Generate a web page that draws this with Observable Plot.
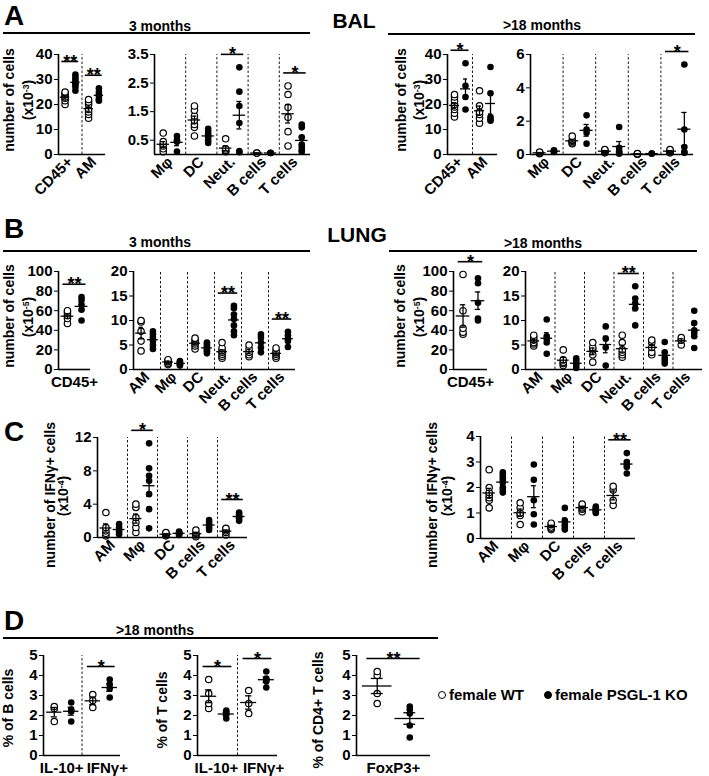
<!DOCTYPE html>
<html><head><meta charset="utf-8">
<script src="https://cdn.jsdelivr.net/npm/d3@7"></script>
<script src="https://cdn.jsdelivr.net/npm/@observablehq/plot@0.6"></script>
<style>
body{margin:0;background:#fff;}
#fig{position:relative;width:709px;height:776px;overflow:hidden;font-family:"Liberation Sans",Arial,sans-serif;font-weight:bold;color:#000;}
.abs{position:absolute;white-space:nowrap;line-height:1.15;}
.c{transform:translate(-50%,-50%);}
.rot{transform:translate(-50%,-50%) rotate(-90deg);}
.hl{position:absolute;height:0;border-top:2px solid #000;}
sup{font-size:0.62em;vertical-align:0.45em;line-height:0;}
.lg{display:inline-block;width:6px;height:6px;border-radius:50%;border:1.3px solid #000;margin-right:3px;vertical-align:1px;}
</style></head><body><div id="fig"></div><script>
// ---------------- DATA ----------------
const groups = ["female WT", "female PSGL-1 KO"];
// A – BAL, 3 months
const a3Cats1 = ["CD45+", "AM"];
const a3Wt1 = [[20, 21.5, 22.5, 23, 24, 24.5, 25], [14.5, 16, 17, 18, 20, 21, 22]];
const a3Ko1 = [[25.5, 27, 28, 28.5, 29, 30, 31, 32], [21.5, 22, 23, 24, 25, 26.5]];
const a3Sig1 = [["CD45+", "**"], ["AM", "**"]];
const a3Cats2 = ["Mφ", "DC", "Neut.", "B cells", "T cells"];
const a3Wt2 = [[0.1, 0.2, 0.3, 0.35, 0.45, 0.75], [0.65, 0.95, 1.05, 1.2, 1.35, 1.55, 1.7], [0.1, 0.12, 0.15, 0.2, 0.55], [0.05, 0.05], [0.3, 0.8, 1.3, 1.65, 2.1, 2.4]];
const a3Ko2 = [[0.1, 0.45, 0.5, 0.65], [0.4, 0.5, 0.6, 0.7, 0.8, 0.9], [0.08, 0.12, 1.1, 1.7, 2.2, 3.05], [0.05, 0.05, 0.06], [0.1, 0.15, 0.25, 0.35, 0.6, 0.95, 1.05]];
const a3Sig2 = [["Neut.", "*"], ["T cells", "*"]];
// A – BAL, >18 months
const a18Cats1 = ["CD45+", "AM"];
const a18Wt1 = [[15, 16.5, 18, 19, 20, 21.5, 23, 24], [12.5, 14.5, 16, 17, 19.5, 25.5]];
const a18Ko1 = [[18, 23, 27.5, 36.5], [13.5, 14, 15, 24.5, 35]];
const a18Sig1 = [["CD45+", "*"]];
const a18Cats2 = ["Mφ", "DC", "Neut.", "B cells", "T cells"];
const a18Wt2 = [[0.05, 0.1, 0.1, 0.15], [0.65, 0.7, 0.8, 0.85, 1.1], [0.1, 0.15, 0.2, 0.25, 0.3], [0.02, 0.03, 0.05], [0.1, 0.15, 0.2, 0.25, 0.3]];
const a18Ko2 = [[0.15, 0.2, 0.2, 0.25], [0.65, 1.3, 1.5, 2.35], [0.05, 0.1, 0.2, 0.4, 1.65], [0.05, 0.06], [0.1, 0.15, 0.45, 1.5, 5.4]];
const a18Sig2 = [["T cells", "*"]];
// B – LUNG, 3 months
const b3Cats1 = ["CD45+"];
const b3Wt1 = [[47, 52, 55, 58, 60]];
const b3Ko1 = [[50, 61, 66, 71, 74]];
const b3Sig1 = [["CD45+", "**"]];
const b3Cats2 = ["AM", "Mφ", "DC", "Neut.", "B cells", "T cells"];
const b3Wt2 = [[3.8, 5.8, 7.8, 9.7, 10], [1.0, 1.3, 1.6, 1.8, 2.0], [4.2, 4.8, 5.2, 5.6, 6.0, 6.4], [2.3, 2.7, 3.1, 3.5, 3.9, 4.4, 5.5], [2.6, 3.0, 3.5, 4.2, 5.0], [2.3, 2.7, 3.1, 3.4, 3.8, 4.4]];
const b3Ko2 = [[4.2, 5, 5.8, 6.5, 7.2, 7.8], [0.8, 1.0, 1.2, 1.5, 1.7], [3.3, 3.7, 4.0, 4.4, 4.8, 5.2, 5.5], [7.0, 7.8, 9.0, 10.3, 11.2, 12.5, 13.0], [3.5, 4.5, 5.5, 6.5, 7.2], [4.6, 5.8, 6.3, 7.0, 7.7]];
const b3Sig2 = [["Neut.", "**"], ["T cells", "**"]];
// B – LUNG, >18 months
const b18Cats1 = ["CD45+"];
const b18Wt1 = [[36, 38, 42, 60, 97]];
const b18Ko1 = [[50, 52, 68, 88, 93]];
const b18Sig1 = [["CD45+", "*"]];
const b18Cats2 = ["AM", "Mφ", "DC", "Neut.", "B cells", "T cells"];
const b18Wt2 = [[4.8, 5.2, 5.5, 6.0, 6.5, 7.0], [0.8, 1.2, 1.5, 2.0, 4.0], [1.5, 3.0, 4.0, 4.5, 5.5], [2.5, 3.0, 3.5, 4.0, 5.5, 7.0], [3.0, 3.5, 4.5, 5.5, 6.0], [5.0, 6.0, 6.5]];
const b18Ko2 = [[3.2, 5.5, 6.2, 6.8, 10.2], [0.3, 0.8, 1.2, 1.8, 2.3], [0.8, 4.5, 6.3, 8.8], [9.0, 12.5, 13.5, 14.5, 17.0], [1.2, 1.8, 2.4, 3.5, 5.6], [4.4, 6.8, 7.5, 8.0, 9.5, 12.0]];
const b18Sig2 = [["Neut.", "**"]];
// C – IFNγ+ cells
const cCats = ["AM", "Mφ", "DC", "B cells", "T cells"];
const c3Wt = [[0.2, 0.5, 0.8, 1.2, 3.0], [0.6, 1.2, 1.8, 2.4, 3.6, 4.0], [0.2, 0.3, 0.4, 0.5, 0.6], [0.1, 0.3, 0.5, 0.9], [0.3, 0.6, 0.8, 1.0, 1.1]];
const c3Ko = [[0.4, 0.7, 0.9, 1.2, 1.6], [1.1, 3.4, 5.2, 6.8, 7.4, 8.3, 11.3], [0.3, 0.4, 0.5, 0.6, 0.7], [0.9, 1.2, 1.5, 1.8, 2.1], [2.0, 2.3, 2.5, 2.8, 3.0]];
const c3Sig = [["Mφ", "*"], ["T cells", "**"]];
const c18Wt = [[1.2, 1.5, 1.6, 1.7, 1.8, 2.0, 2.7], [0.55, 0.9, 1.0, 1.2, 1.4], [0.35, 0.4, 0.45, 0.55, 0.6], [1.05, 1.15, 1.2, 1.3, 1.35], [1.3, 1.5, 1.9, 2.05]];
const c18Ko = [[1.8, 1.9, 2.0, 2.2, 2.3, 2.4, 2.5, 2.6], [0.55, 0.95, 1.5, 2.3, 2.9], [0.35, 0.45, 0.55, 0.7, 1.2], [1.0, 1.05, 1.1, 1.15, 1.2, 1.25], [2.55, 2.8, 2.9, 3.0, 3.35]];
const c18Sig = [["T cells", "**"]];
// D – >18 months, % cells
const dCats = ["IL-10+", "IFNγ+"];
const dBWt = [[1.7, 2.35, 2.45], [2.4, 2.75, 3.05]];
const dBKo = [[1.7, 2.2, 2.3, 2.65], [2.9, 3.35, 3.55, 3.8]];
const dBSig = [["IFNγ+", "*"]];
const dTWt = [[2.35, 2.6, 3.1, 3.8], [2.1, 2.6, 3.25]];
const dTKo = [[1.85, 2.05, 2.15, 2.25], [3.4, 3.7, 3.8, 3.85, 4.2]];
const dTSig = [["IL-10+", "*"], ["IFNγ+", "*"]];
const dFCats = ["FoxP3+"];
const dFWt = [[2.6, 3.1, 4.0, 4.2]];
const dFKo = [[0.9, 1.5, 2.1, 2.3, 2.45]];
const dFSig = [["FoxP3+", "**"]];

// ---------------- DRAWING ----------------
const fig = document.getElementById("fig");
function label(html, x, y, size, cls = "c") {
  const d = document.createElement("div");
  d.className = "abs " + cls;
  d.style.left = x + "px"; d.style.top = y + "px"; d.style.fontSize = size + "px";
  d.innerHTML = html; fig.appendChild(d);
}
function hline(x1, x2, y) {
  const d = document.createElement("div");
  d.className = "hl";
  d.style.left = x1 + "px"; d.style.width = (x2 - x1) + "px"; d.style.top = (y - 1) + "px";
  fig.appendChild(d);
}
const OFF = {WT: -0.22, KO: 0.22};
const ML = 44, MR = 8, MT = 34, MB = 66;
function strip(g, cats, wt, ko, sig, domain, ticks, rotate, shifts) {
  const n = cats.length;
  const w = g.x2 - g.x1, h = g.y2 - g.y1;
  const pts = [];
  cats.forEach((c, i) => {
    wt[i].forEach(v => pts.push({i, g: "WT", v}));
    ko[i].forEach(v => pts.push({i, g: "KO", v}));
  });
  const stats = [];
  cats.forEach((c, i) => [["WT", wt[i]], ["KO", ko[i]]].forEach(([grp, vals]) => {
    const m = d3.mean(vals);
    const se = vals.length > 1 ? d3.deviation(vals) / Math.sqrt(vals.length) : 0;
    stats.push({x: i + OFF[grp], m, lo: m - se, hi: m + se});
  }));
  const span = domain[1] - domain[0];
  const sigs = sig.map(([c, lab]) => {
    const i = cats.indexOf(c);
    return {i, lab, y: d3.max([...wt[i], ...ko[i]]) + 0.13 * span};
  });
  const xAxisOpts = {tickFormat: i => cats[i], tickSize: 0, tickRotate: rotate ? -45 : 0, tickPadding: rotate ? 5 : 7, label: null};
  const axisMarks = (shifts && typeof Plot.axisX === "function")
    ? cats.map((c, i) => Plot.axisX([i], {...xAxisOpts, dx: shifts[i]}))
    : [];
  const p = Plot.plot({
    width: w + ML + MR, height: h + MT + MB,
    marginLeft: ML, marginRight: MR, marginTop: MT, marginBottom: MB,
    style: {fontFamily: '"Liberation Sans", Arial, sans-serif', fontSize: "15px", fontWeight: "bold", background: "transparent", overflow: "visible", color: "#000"},
    x: {domain: [-0.5, n - 0.5], ticks: d3.range(n), ...xAxisOpts},
    y: {domain, ticks, tickSize: 4, tickPadding: 2, tickFormat: d => String(d), label: null},
    marks: [
      ...axisMarks,
      Plot.ruleX(d3.range(1, n), {x: d => d - 0.5, y1: domain[0], y2: domain[1], strokeDasharray: "2.5,2", strokeWidth: 0.9}),
      Plot.dot(pts.filter(d => d.g === "WT"), {x: d => d.i + OFF.WT, y: "v", r: 3.2, stroke: "#000", fill: "#fff", strokeWidth: 1.2}),
      Plot.dot(pts.filter(d => d.g === "KO"), {x: d => d.i + OFF.KO, y: "v", r: 3.3, fill: "#000"}),
      Plot.ruleY(stats, {y: "m", x1: d => d.x - 0.2, x2: d => d.x + 0.2, strokeWidth: 1.3}),
      Plot.ruleX(stats, {x: "x", y1: "lo", y2: "hi", strokeWidth: 1.3}),
      Plot.ruleY(stats, {y: "lo", x1: d => d.x - 0.08, x2: d => d.x + 0.08, strokeWidth: 1.3}),
      Plot.ruleY(stats, {y: "hi", x1: d => d.x - 0.08, x2: d => d.x + 0.08, strokeWidth: 1.3}),
      Plot.ruleY(sigs, {y: "y", x1: d => d.i - 0.36, x2: d => d.i + 0.36, strokeWidth: 1.6}),
      Plot.text(sigs, {x: "i", y: "y", text: "lab", lineAnchor: "bottom", dy: 6, fontSize: 18}),
      Plot.ruleX([-0.5], {strokeWidth: 1.6}),
      Plot.ruleY([domain[0]], {strokeWidth: 1.6})
    ]
  });
  p.style.position = "absolute";
  p.style.left = (g.x1 - ML) + "px";
  p.style.top = (g.y1 - MT) + "px";
  fig.appendChild(p);
}

// Panel A
label("A", 14, 16, 28);
label("3 months", 160, 26, 14); hline(3, 310, 33);
label("BAL", 354, 21, 21);
label("&gt;18 months", 542, 25, 14); hline(388, 695, 34);
label("number of cells", 9, 100, 14, "rot");
label("(x10<sup>-3</sup>)", 28, 100, 14, "rot");
label("number of cells", 401, 100, 14, "rot");
label("(x10<sup>-3</sup>)", 419, 100, 14, "rot");
strip({x1: 58, x2: 105, y1: 54, y2: 154}, a3Cats1, a3Wt1, a3Ko1, a3Sig1, [0, 40], [0, 10, 20, 30, 40], true);
strip({x1: 154, x2: 310, y1: 54, y2: 154}, a3Cats2, a3Wt2, a3Ko2, a3Sig2, [0, 3.5], [0.5, 1.5, 2.5, 3.5], true);
strip({x1: 447, x2: 497, y1: 54, y2: 154}, a18Cats1, a18Wt1, a18Ko1, a18Sig1, [0, 40], [0, 10, 20, 30, 40], true);
strip({x1: 530, x2: 693, y1: 54, y2: 154}, a18Cats2, a18Wt2, a18Ko2, a18Sig2, [0, 6], [0, 2, 4, 6], true);

// Panel B
label("B", 14, 229, 28);
label("3 months", 160, 242, 14); hline(3, 310, 251);
label("LUNG", 357, 235, 21);
label("&gt;18 months", 543, 243, 14); hline(389, 697, 251);
label("number of cells", 9, 316, 14, "rot");
label("(x10<sup>-5</sup>)", 28, 317, 14, "rot");
label("number of cells", 400, 316, 14, "rot");
label("(x10<sup>-5</sup>)", 419, 317, 14, "rot");
strip({x1: 58, x2: 90, y1: 271, y2: 369}, b3Cats1, b3Wt1, b3Ko1, b3Sig1, [0, 100], [0, 20, 40, 60, 80, 100], false);
strip({x1: 133, x2: 295, y1: 271, y2: 369}, b3Cats2, b3Wt2, b3Ko2, b3Sig2, [0, 20], [0, 5, 10, 15, 20], true);
strip({x1: 453, x2: 487, y1: 271, y2: 369}, b18Cats1, b18Wt1, b18Ko1, b18Sig1, [0, 100], [0, 20, 40, 60, 80, 100], false);
strip({x1: 525, x2: 702, y1: 271, y2: 369}, b18Cats2, b18Wt2, b18Ko2, b18Sig2, [0, 20], [0, 5, 10, 15, 20], true);

// Panel C
label("C", 14, 432, 28);
label("number of IFNγ+ cells", 50, 495, 14, "rot");
label("(x10<sup>-4</sup>)", 63, 496, 14, "rot");
label("number of IFNγ+ cells", 432, 495, 14, "rot");
label("(x10<sup>-4</sup>)", 447, 496, 14, "rot");
strip({x1: 97, x2: 247, y1: 437, y2: 537}, cCats, c3Wt, c3Ko, c3Sig, [0, 12], [0, 4, 8, 12], true);
strip({x1: 480, x2: 635, y1: 436, y2: 538}, cCats, c18Wt, c18Ko, c18Sig, [0, 4], [0, 1, 2, 3, 4], true);

// Panel D
label("D", 14, 621, 28);
label("&gt;18 months", 155, 630, 14); hline(3, 438, 638);
label("% of B cells", 8, 708, 14, "rot");
label("% of T cells", 162, 710, 14, "rot");
label("% of CD4+ T cells", 318, 710, 14, "rot");
strip({x1: 43, x2: 120, y1: 655, y2: 755}, dCats, dBWt, dBKo, dBSig, [0, 5], [0, 1, 2, 3, 4, 5], false, [-1, 6]);
strip({x1: 197, x2: 277, y1: 655, y2: 755}, dCats, dTWt, dTKo, dTSig, [0, 5], [0, 1, 2, 3, 4, 5], false, [-1, 6]);
strip({x1: 356, x2: 430, y1: 655, y2: 755}, dFCats, dFWt, dFKo, dFSig, [0, 5], [0, 1, 2, 3, 4, 5], false);

// Legend
const lg = document.createElement("div");
lg.className = "abs";
lg.style.left = "438px"; lg.style.top = "686px"; lg.style.fontSize = "15px";
lg.innerHTML = `<span class="lg" style="background:#fff"></span>${groups[0]}<span style="display:inline-block;width:20px"></span><span class="lg" style="background:#000"></span>${groups[1]}`;
fig.appendChild(lg);
</script></body></html>
